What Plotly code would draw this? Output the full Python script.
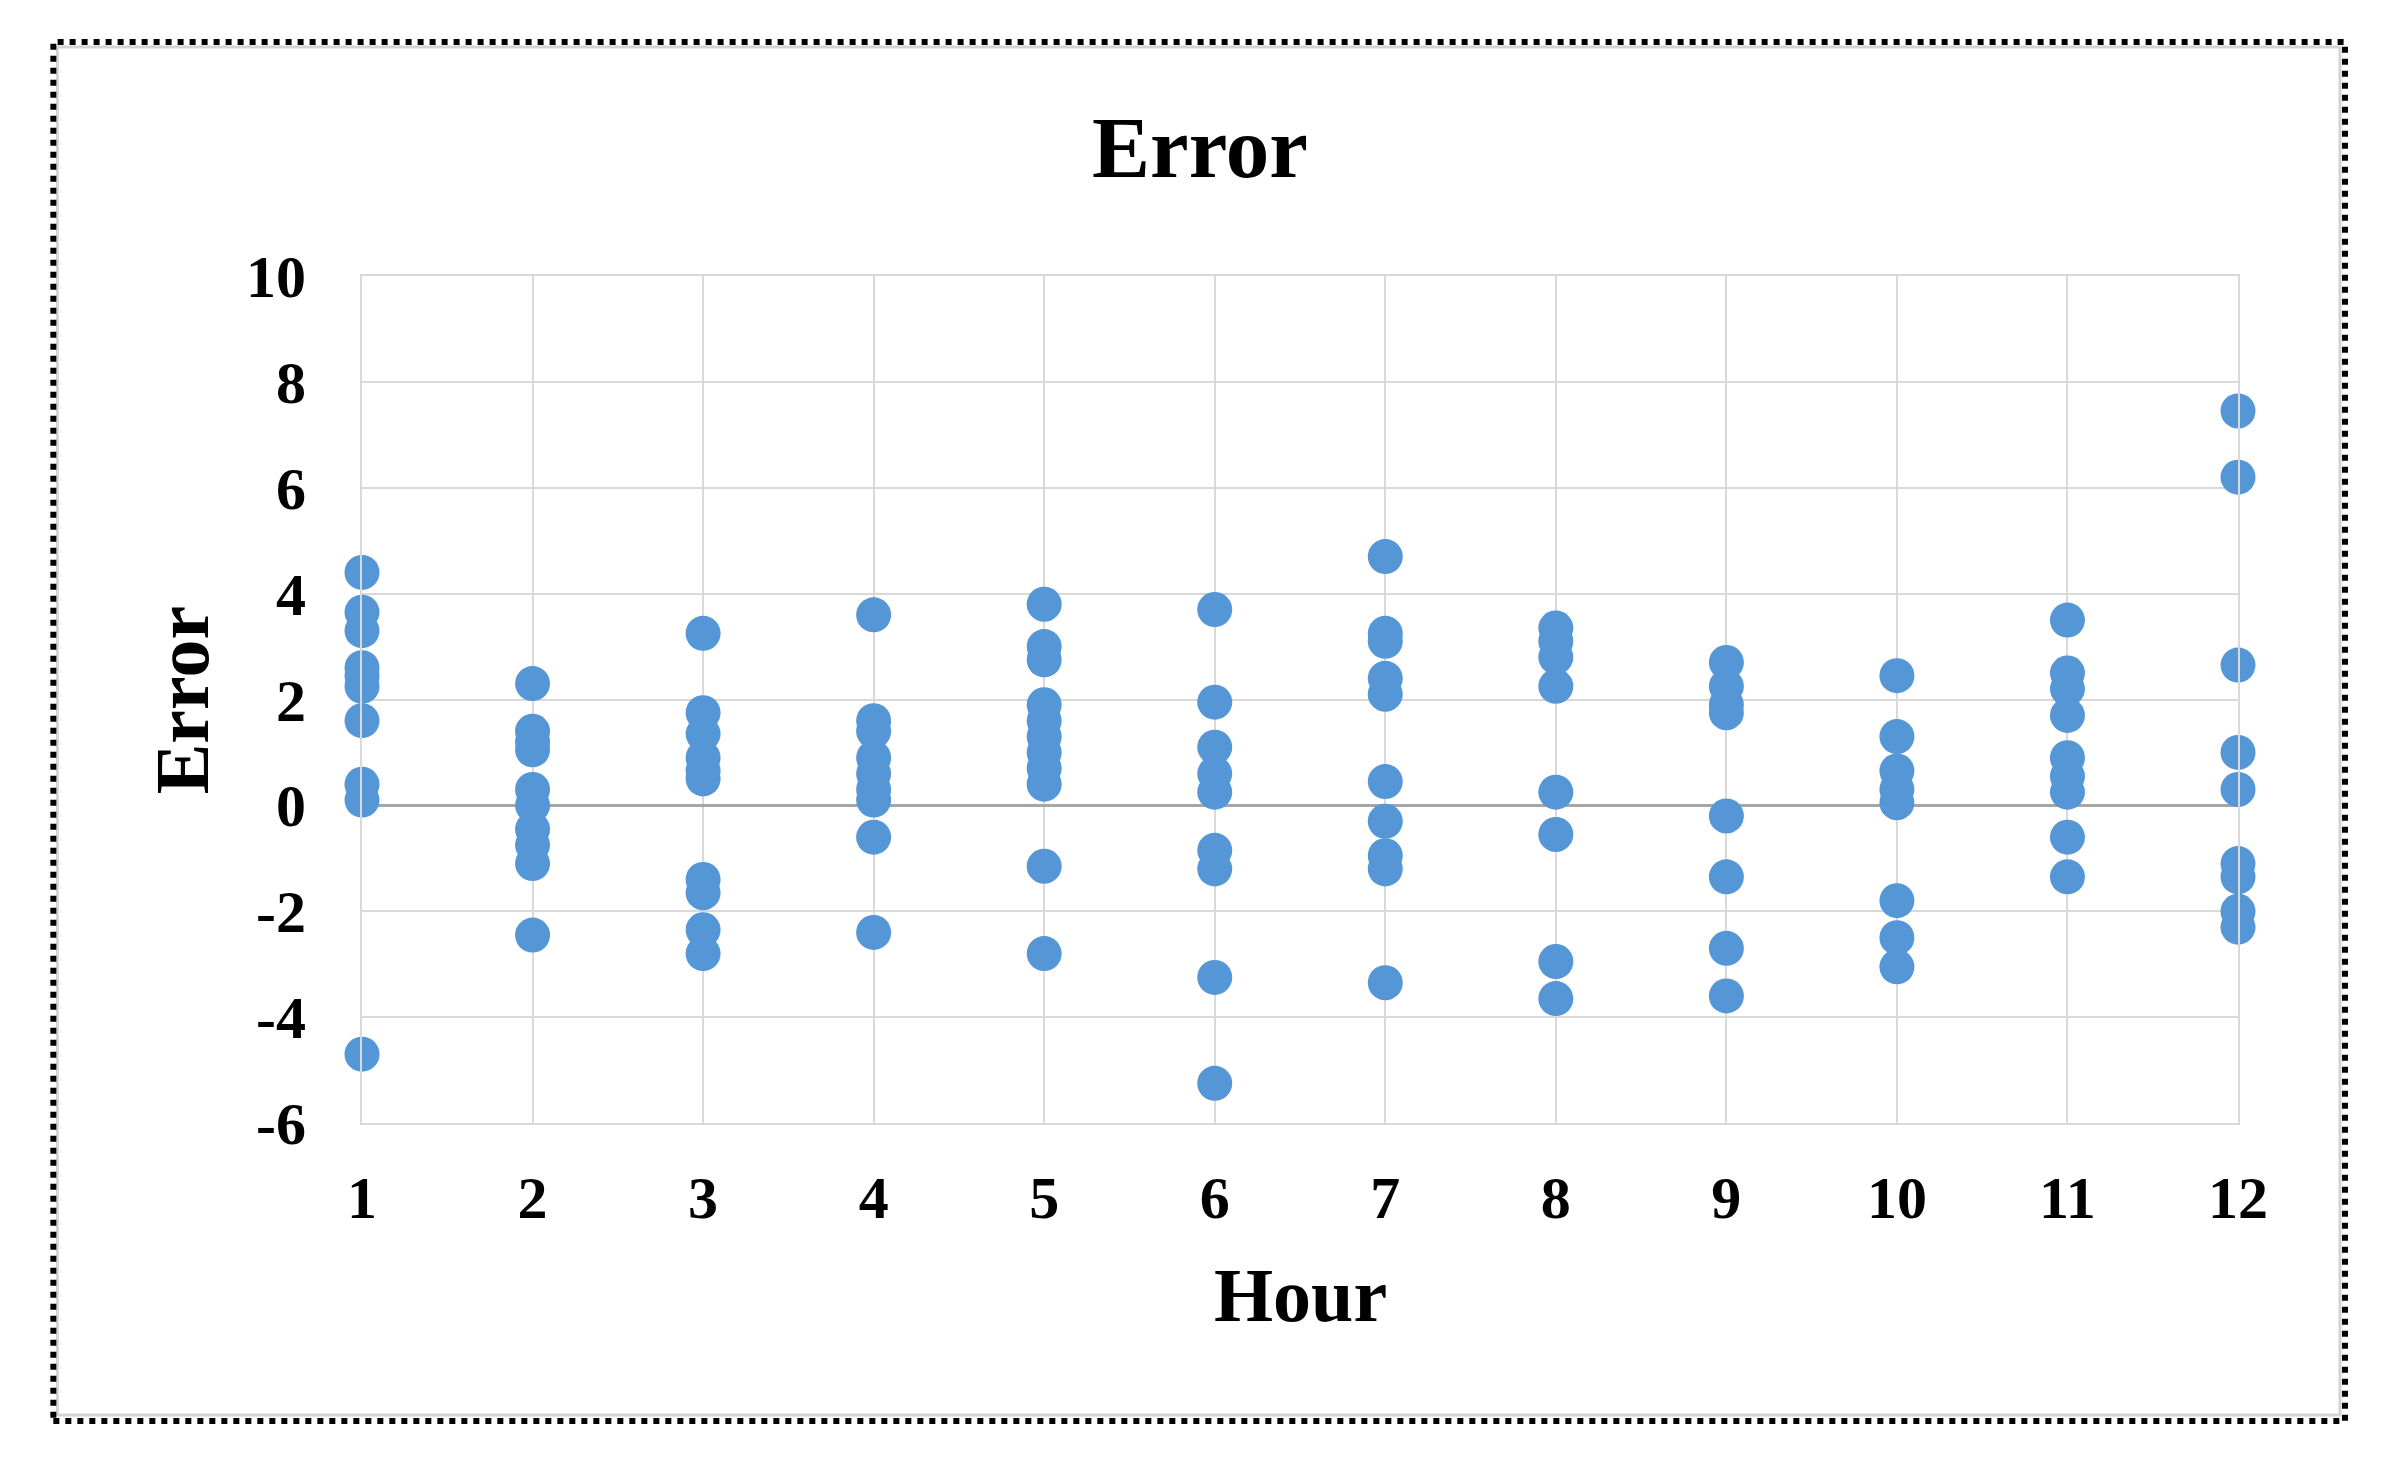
import plotly.graph_objects as go

# ---------------- data ----------------
hours = [1, 2, 3, 4, 5, 6, 7, 8, 9, 10, 11, 12]
h1 = [4.4, 3.65, 3.3, 2.6, 2.45, 2.25, 1.6, 0.4, 0.1, -4.7]
h2 = [2.3, 1.4, 1.2, 1.05, 0.3, 0.0, -0.45, -0.75, -1.1, -2.45]
h3 = [3.25, 1.75, 1.35, 0.9, 0.65, 0.5, -1.4, -1.65, -2.35, -2.8]
h4 = [3.6, 1.6, 1.4, 0.9, 0.6, 0.3, 0.1, -0.6, -2.4]
h5 = [3.8, 3.0, 2.75, 1.9, 1.6, 1.3, 1.0, 0.7, 0.4, -1.15, -2.8]
h6 = [3.7, 1.95, 1.1, 0.6, 0.25, -0.85, -1.2, -3.25, -5.25]
h7 = [4.7, 3.25, 3.1, 2.4, 2.1, 0.45, -0.3, -0.95, -1.2, -3.35]
h8 = [3.35, 3.1, 2.8, 2.25, 0.25, -0.55, -2.95, -3.65]
h9 = [2.7, 2.25, 1.9, 1.75, -0.2, -1.35, -2.7, -3.6]
h10 = [2.45, 1.3, 0.65, 0.3, 0.05, -1.8, -2.5, -3.05]
h11 = [3.5, 2.5, 2.2, 1.7, 0.9, 0.55, 0.25, -0.6, -1.35]
h12 = [7.45, 6.2, 2.65, 1.0, 0.3, -1.1, -1.35, -2.0, -2.3]
errors_by_hour = [h1, h2, h3, h4, h5, h6, h7, h8, h9, h10, h11, h12]

y_ticks = [-6, -4, -2, 0, 2, 4, 6, 8, 10]
title_text = "Error"
x_title = "Hour"
y_title = "Error"

# ---------------- build ----------------
xs, ys = [], []
for h, vals in zip(hours, errors_by_hour):
    for v in vals:
        xs.append(h)
        ys.append(v)

OFF = 8                      # default page body margin
W, H = 2386 - 2 * OFF, 1465 - 2 * OFF
# plot area edges in page pixels, converted to figure pixels
L, R = 361.7 - OFF, 2238.0 - OFF
T, B = 276.0 - OFF, 1123.0 - OFF

def px(x):
    return (x - OFF - L) / (R - L)

def py(y):
    return (B - (y - OFF)) / (B - T)

FONT = "Liberation Serif, Times New Roman, serif"
BLUE = "#5596d6"
GRID = "#d9d9d9"

fig = go.Figure()
fig.add_trace(go.Scatter(
    x=xs, y=ys, mode="markers",
    marker=dict(size=35, color=BLUE, line=dict(width=0)),
    cliponaxis=False, showlegend=False,
))

fig.update_layout(
    width=W, height=H,
    margin=dict(l=L, r=W - R, t=T, b=H - B, pad=0),
    paper_bgcolor="white", plot_bgcolor="white",
    font=dict(family=FONT, color="black"),
    showlegend=False,
)

fig.update_xaxes(
    range=[1, 12], tickmode="array", tickvals=hours,
    ticktext=[str(h) for h in hours],
    tickfont=dict(family=FONT, size=60, color="black", weight="bold"),
    showgrid=True, gridcolor=GRID, gridwidth=2,
    zeroline=False, showline=True, mirror=True, linecolor=GRID, linewidth=2,
    ticks="", ticklabelstandoff=21,
)
fig.update_yaxes(
    range=[-6, 10], tickmode="array", tickvals=y_ticks,
    ticktext=[str(t) for t in y_ticks],
    tickfont=dict(family=FONT, size=60, color="black", weight="bold"),
    showgrid=True, gridcolor=GRID, gridwidth=2,
    zeroline=True, zerolinecolor="#a6a6a6", zerolinewidth=3,
    showline=True, mirror=True, linecolor=GRID, linewidth=2,
    ticks="", ticklabelstandoff=42,
)

# titles
fig.add_annotation(
    text=f"<b>{title_text}</b>", xref="paper", yref="paper",
    x=px(1200), y=py(147), xanchor="center", yanchor="middle",
    showarrow=False, font=dict(family=FONT, size=87, color="black"),
)
fig.add_annotation(
    text=f"<b>{x_title}</b>", xref="paper", yref="paper",
    x=px(1300), y=py(1295), xanchor="center", yanchor="middle",
    showarrow=False, font=dict(family=FONT, size=76, color="black"),
)
fig.add_annotation(
    text=f"<b>{y_title}</b>", xref="paper", yref="paper",
    x=px(182), y=py(700), xanchor="center", yanchor="middle",
    textangle=-90,
    showarrow=False, font=dict(family=FONT, size=76, color="black"),
)

# outer frame: light gray inner line + dotted black border
fig.add_shape(type="rect", xref="paper", yref="paper",
              x0=px(57), x1=px(2340), y0=py(1415), y1=py(47),
              line=dict(color="#d4d4d4", width=3), layer="below")
fig.add_shape(type="rect", xref="paper", yref="paper",
              x0=px(53), x1=px(2345), y0=py(1421), y1=py(42),
              line=dict(color="black", width=6, dash="dot"), layer="above")

fig.write_html("out.html")
